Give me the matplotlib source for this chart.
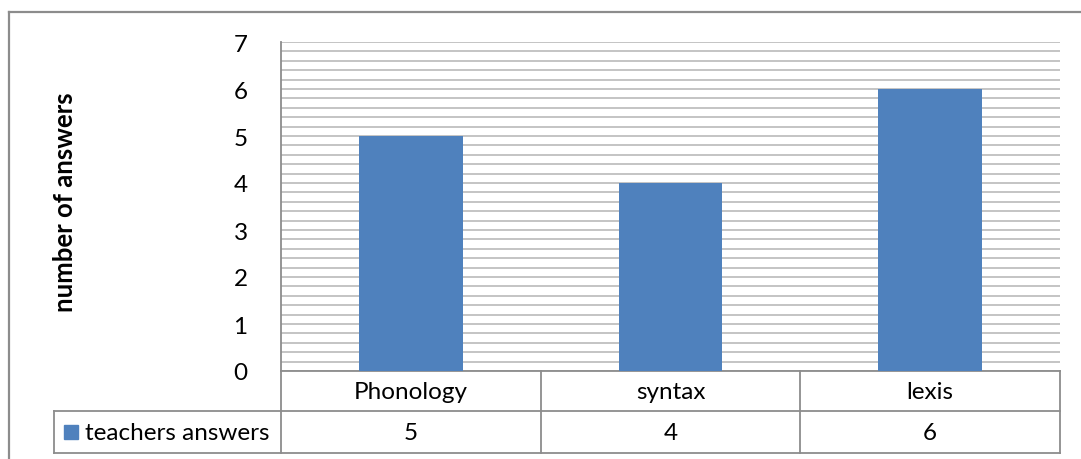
import matplotlib
matplotlib.use("Agg")
import matplotlib.pyplot as plt
from matplotlib.lines import Line2D
from matplotlib.patches import Rectangle
import numpy as np

categories = ["Phonology", "syntax", "lexis"]
series_name = "teachers answers"
values = [5, 4, 6]
y_ticks = [0, 1, 2, 3, 4, 5, 6, 7]
y_label = "number of answers"

W, H = 1081, 460
FONT = "Lato"
BAR = "#4F81BD"
GRID = "#BFBFBF"
LINE = "#8C8C8C"
FS = 17.5

fig = plt.figure(figsize=(W / 100, H / 100), dpi=100)
fig.patch.set_facecolor("white")

# plot area (pixel coordinates)
L, R, T, B = 281, 1060, 43, 372
ax = fig.add_axes([L / W, (H - B) / H, (R - L) / W, (B - T) / H])

x = np.arange(len(categories))
ax.bar(x, values, width=0.4, color=BAR, zorder=3)
ax.set_xlim(-0.5, len(categories) - 0.5)
ax.set_ylim(0, 7)
ax.set_yticks(y_ticks)
ax.set_yticks(np.arange(0, 7.01, 0.2), minor=True)
ax.yaxis.grid(True, which="both", color=GRID, linewidth=1.3, zorder=0)
ax.set_axisbelow(True)
ax.set_xticks([])
ax.tick_params(axis="y", which="both", length=0, pad=24, labelsize=FS)
for lab in ax.get_yticklabels():
    lab.set_fontfamily(FONT)
for s in ["top", "right"]:
    ax.spines[s].set_visible(False)
ax.spines["left"].set_color(LINE)
ax.spines["left"].set_linewidth(1.3)
ax.spines["bottom"].set_color(LINE)
ax.spines["bottom"].set_linewidth(1.3)

ax.set_ylabel(y_label, fontsize=18.5, fontweight="bold", fontfamily=FONT)
ax.yaxis.label.set_va("center")
ax.yaxis.set_label_coords(-(L - 65) / (R - L), (B - 202) / (B - T))

def fx(px):
    return px / W

def fy(py):
    return (H - py) / H

def hline(x0, x1, y):
    fig.add_artist(Line2D([fx(x0), fx(x1)], [fy(y), fy(y)], color=LINE, lw=1.3))

def vline(x0, y0, y1):
    fig.add_artist(Line2D([fx(x0), fx(x0)], [fy(y0), fy(y1)], color=LINE, lw=1.3))

# outer chart border (cut off at right/bottom)
fig.add_artist(Line2D([fx(8.5), fx(1081)], [fy(13), fy(13)], color=LINE, lw=1.6))
fig.add_artist(Line2D([fx(8.5), fx(8.5)], [fy(13), fy(460)], color=LINE, lw=1.6))

# data table
row_mid, row_bot = 412, 454
legend_left = 54
col_w = (R - L) / len(categories)
hline(legend_left, R, row_mid)
hline(legend_left, R, row_bot)
vline(legend_left, row_mid, row_bot)
for i in range(len(categories) + 1):
    vline(L + i * col_w, B, row_bot)

for i, (c, v) in enumerate(zip(categories, values)):
    cx = L + (i + 0.5) * col_w
    fig.text(fx(cx), fy((B + row_mid) / 2 + 1), c, ha="center", va="center",
             fontsize=FS, fontfamily=FONT)
    fig.text(fx(cx), fy((row_mid + row_bot) / 2 + 1), str(v), ha="center", va="center",
             fontsize=FS, fontfamily=FONT)

fig.add_artist(Rectangle((fx(64), fy(440)), fx(14), 14 / H, color=BAR,
                         transform=fig.transFigure))
fig.text(fx(85), fy((row_mid + row_bot) / 2 + 1), series_name, ha="left", va="center",
         fontsize=FS, fontfamily=FONT)

fig.savefig("out.png", dpi=100, facecolor="white")
